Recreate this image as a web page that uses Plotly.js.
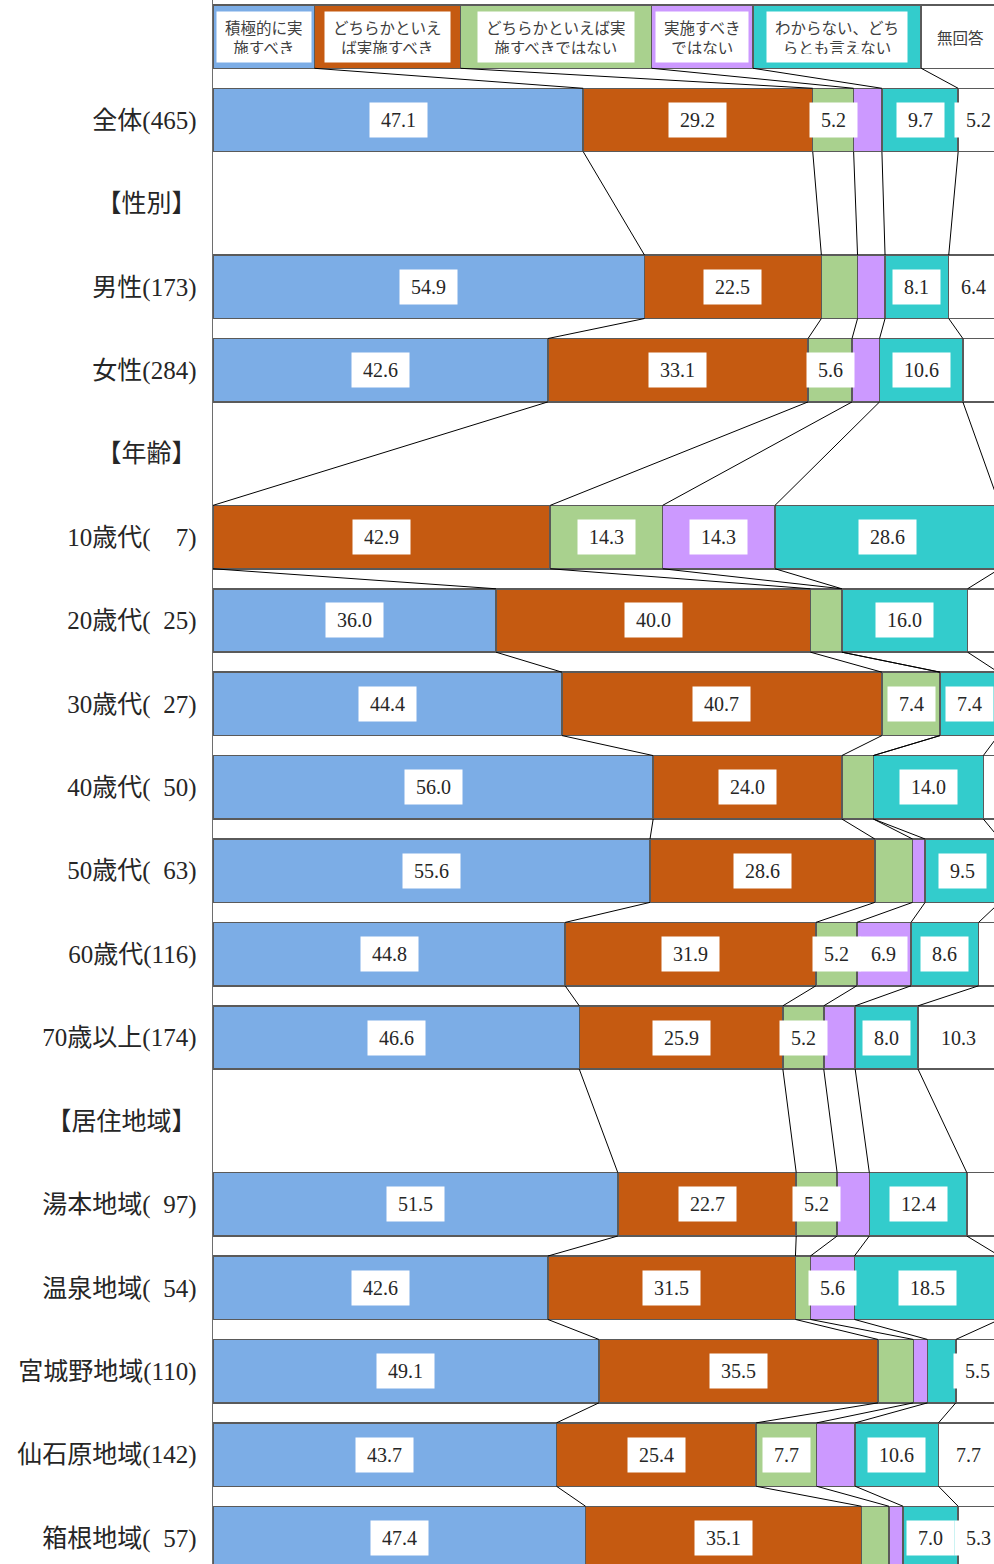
<!DOCTYPE html>
<html>
<head>
<meta charset="utf-8">
<script src="https://cdn.plot.ly/plotly-3.0.1.min.js"></script>
<style>html,body{margin:0;padding:0;background:#fff;overflow:hidden}</style>
</head>
<body>
<div id="chart" style="width:994px;height:1564px"></div>
<script>
// Answer categories (stack order, left to right)
const seriesNames = [
  '積極的に実施すべき',
  'どちらかといえば実施すべき',
  'どちらかといえば実施すべきではない',
  '実施すべきではない',
  'わからない、どちらとも言えない',
  '無回答'
];
// Key row drawn above the bars
const keyLabels = [
  '積極的に実<br>施すべき',
  'どちらかといえ<br>ば実施すべき',
  'どちらかといえば実<br>施すべきではない',
  '実施すべき<br>ではない',
  'わからない、どち<br>らとも言えない',
  '無回答'
];
const keyWidths = [12.9, 18.6, 24.3, 12.9, 21.4, 9.9];

// Row labels (group headings carry no bar)
const NB = '\u00a0';
const rowLabels = [
  '全体(465)', '【性別】', '男性(173)', '女性(284)', '【年齢】',
  '10歳代(' + NB.repeat(4) + '7)', '20歳代(' + NB.repeat(2) + '25)', '30歳代(' + NB.repeat(2) + '27)',
  '40歳代(' + NB.repeat(2) + '50)', '50歳代(' + NB.repeat(2) + '63)', '60歳代(116)', '70歳以上(174)',
  '【居住地域】',
  '湯本地域(' + NB.repeat(2) + '97)', '温泉地域(' + NB.repeat(2) + '54)', '宮城野地域(110)',
  '仙石原地域(142)', '箱根地域(' + NB.repeat(2) + '57)'
];

// Percentages per row
const positive   = [47.1, null, 54.9, 42.6, null,  0.0, 36.0, 44.4, 56.0, 55.6, 44.8, 46.6, null, 51.5, 42.6, 49.1, 43.7, 47.4];
const leaning    = [29.2, null, 22.5, 33.1, null, 42.9, 40.0, 40.7, 24.0, 28.6, 31.9, 25.9, null, 22.7, 31.5, 35.5, 25.4, 35.1];
const leaningNot = [ 5.2, null,  4.6,  5.6, null, 14.3,  4.0,  7.4,  4.0,  4.8,  5.2,  5.2, null,  5.2,  1.9,  4.5,  7.7,  3.5];
const shouldNot  = [ 3.6, null,  3.5,  3.5, null, 14.3,  0.0,  0.0,  0.0,  1.6,  6.9,  4.0, null,  4.1,  5.6,  1.8,  4.9,  1.8];
const unsure     = [ 9.7, null,  8.1, 10.6, null, 28.6, 16.0,  7.4, 14.0,  9.5,  8.6,  8.0, null, 12.4, 18.5,  3.6, 10.6,  7.0];
const noAnswer   = [ 5.2, null,  6.4,  4.6, null,  0.0,  4.0,  0.0,  2.0,  0.0,  2.6, 10.3, null,  4.1,  0.0,  5.5,  7.7,  5.3];

const series = [positive, leaning, leaningNot, shouldNot, unsure, noAnswer];
const colors = ['#7CADE6', '#C55A11', '#A9D18E', '#CC99FF', '#33CCCC', '#FFFFFF'];

const KEY_ROW = -1;
const BAR_W = 0.76;
const rows = rowLabels.map((_, i) => i);

const traces = [];
series.forEach((vals, s) => {
  traces.push({
    type: 'bar',
    orientation: 'h',
    name: seriesNames[s],
    y: [KEY_ROW].concat(rows),
    x: [keyWidths[s]].concat(vals),
    width: BAR_W,
    marker: { color: colors[s], line: { color: '#5a5a5a', width: 1.5 } },
    hoverinfo: 'skip',
    showlegend: false
  });
});

// Row value accessor including the key row
function rowValues(r) {
  if (r === KEY_ROW) return keyWidths;
  return series.map(v => v[r]);
}
const barRows = [KEY_ROW].concat(rows.filter(r => positive[r] !== null));

// Series lines joining the segment ends of consecutive bars
const lx = [], ly = [];
for (let i = 0; i < barRows.length - 1; i++) {
  const a = barRows[i], b = barRows[i + 1];
  const va = rowValues(a), vb = rowValues(b);
  let ca = 0, cb = 0;
  for (let s = 0; s < series.length; s++) {
    ca += va[s]; cb += vb[s];
    lx.push(ca, cb, null);
    ly.push(a + BAR_W / 2, b - BAR_W / 2, null);
  }
}
traces.push({
  type: 'scatter', mode: 'lines', x: lx, y: ly,
  line: { color: '#000000', width: 1 },
  hoverinfo: 'skip', showlegend: false, cliponaxis: false
});

const annotations = [];
// Value labels
rows.forEach(r => {
  if (positive[r] === null) return;
  let cum = 0;
  series.forEach(vals => {
    const v = vals[r];
    if (v >= 5) {
      const t = v.toFixed(1);
      annotations.push({
        x: cum + v / 2, y: r, xref: 'x', yref: 'y',
        text: t, showarrow: false,
        font: { family: 'Liberation Serif, serif', size: 20, color: '#262626' },
        bgcolor: '#ffffff', borderpad: 0,
        width: (t.length - 1) * 10 + 27, height: 34
      });
    }
    cum += v;
  });
});
// Key labels
let kc = 0;
keyWidths.forEach((w, s) => {
  annotations.push({
    x: kc + w / 2, y: KEY_ROW, xref: 'x', yref: 'y',
    text: keyLabels[s], showarrow: false,
    font: { family: 'Noto Sans CJK JP, sans-serif', size: 15.5, color: '#404040' },
    bgcolor: '#ffffff', borderpad: 8, height: 34
  });
  kc += w;
});

const layout = {
  width: 994, height: 1564,
  margin: { l: 213, r: 0, t: 0, b: 0 },
  barmode: 'stack',
  bargap: 0,
  paper_bgcolor: '#ffffff', plot_bgcolor: '#ffffff',
  showlegend: false,
  hovermode: false,
  xaxis: {
    range: [0, 99.36], showgrid: false, zeroline: false,
    showticklabels: false, showline: false, fixedrange: true
  },
  yaxis: {
    range: [17.312, -1.4387], showgrid: false, zeroline: false,
    tickvals: rows, ticktext: rowLabels,
    tickfont: { family: 'Liberation Serif, Noto Sans CJK JP, serif', size: 25, color: '#262626' },
    ticks: '', ticklabelstandoff: 10,
    showline: true, linecolor: '#6e6e6e', linewidth: 1.5, fixedrange: true
  },
  annotations: annotations
};

Plotly.newPlot('chart', traces, layout, { staticPlot: true, displayModeBar: false });
</script>
</body>
</html>
